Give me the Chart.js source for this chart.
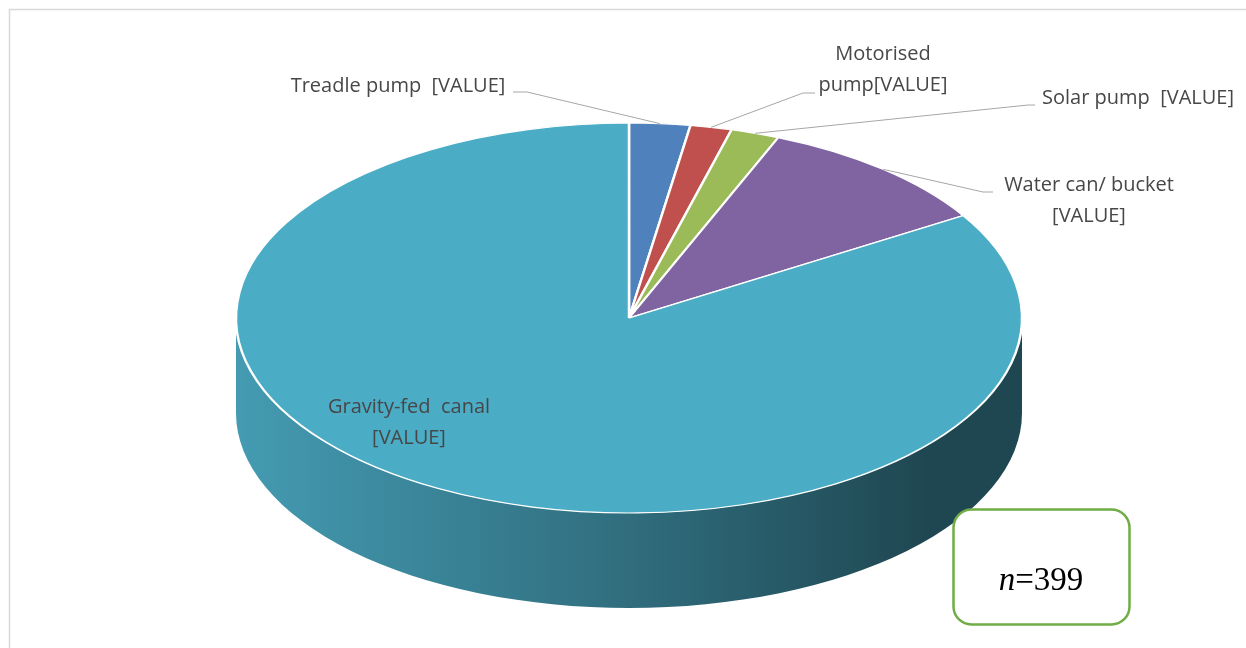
<!DOCTYPE html>
<html>
<head>
<meta charset="utf-8">
<script src="https://cdn.jsdelivr.net/npm/chart.js@4.4.1/dist/chart.umd.min.js"></script>
<style>
  html, body { margin: 0; padding: 0; background: #fff; }
  canvas { display: block; }
</style>
</head>
<body>
<canvas id="irrigationPie" width="1246" height="648"></canvas>
<script>
// irrigation method shares (percent of respondents), clockwise from 12 o'clock
const categories = ['Treadle pump', 'Motorised pump', 'Solar pump', 'Water can/ bucket', 'Gravity-fed canal'];
const shares = [2.5, 1.7, 2.0, 10.0, 83.8];
const labelLines = [
  ['Treadle pump  [VALUE]'],
  ['Motorised', 'pump[VALUE]'],
  ['Solar pump  [VALUE]'],
  ['Water can/ bucket', '[VALUE]'],
  ['Gravity-fed  canal', '[VALUE]']
];
const sampleSize = 399;

const sliceColors = ['#4F81BD', '#C0504D', '#9BBB59', '#8064A2', '#4BACC6'];

// where the tilted pie sits on the page
const disc = { cx: 629, cy: 318, rx: 393, ry: 195, depth: 95 };

// label text centre + leader start (null = drawn inside the slice)
const labelLayout = [
  { x: 398, y: 86, lead: [[513, 92], [527, 92]] },
  { x: 883, y: 54, lead: [[815, 93], [803, 93]] },
  { x: 1138, y: 98, lead: [[1035, 105], [1028, 105]] },
  { x: 1089, y: 185, lead: [[993, 192], [983, 192]] },
  { x: 409, y: 407, lead: null }
];

function shade(hex, f) {
  const n = parseInt(hex.slice(1), 16);
  const r = Math.round(((n >> 16) & 255) * f);
  const g = Math.round(((n >> 8) & 255) * f);
  const b = Math.round((n & 255) * f);
  return `rgb(${r},${g},${b})`;
}

const tiltPlugin = {
  id: 'tilt',
  beforeDatasetsDraw(chart) {
    const ctx = chart.ctx;
    const meta = chart.getDatasetMeta(0);
    const arc0 = meta.data[0];
    const R = arc0.outerRadius;

    // chart frame (top + left hairline)
    ctx.save();
    ctx.strokeStyle = '#d9d9d9';
    ctx.lineWidth = 1.5;
    ctx.beginPath();
    ctx.moveTo(9.5, 660);
    ctx.lineTo(9.5, 9.5);
    ctx.lineTo(1260, 9.5);
    ctx.stroke();
    ctx.restore();

    // side wall of the front half
    meta.data.forEach((arc, i) => {
      const a = Math.max(arc.startAngle, 0);
      const b = Math.min(arc.endAngle, Math.PI);
      if (b <= a) return;
      const base = sliceColors[i];
      const grad = ctx.createLinearGradient(disc.cx - disc.rx, 0, disc.cx + disc.rx, 0);
      grad.addColorStop(0, shade(base, 0.9));
      grad.addColorStop(0.45, shade(base, 0.66));
      grad.addColorStop(0.88, shade(base, 0.41));
      grad.addColorStop(1, shade(base, 0.41));
      ctx.save();
      ctx.beginPath();
      ctx.ellipse(disc.cx, disc.cy, disc.rx, disc.ry, 0, a, b, false);
      ctx.ellipse(disc.cx, disc.cy + disc.depth, disc.rx, disc.ry, 0, b, a, true);
      ctx.closePath();
      ctx.fillStyle = grad;
      ctx.fill();
      ctx.restore();
    });

    // squash the round pie into the tilted top face
    ctx.save();
    ctx.translate(disc.cx, disc.cy);
    ctx.scale(disc.rx / R, disc.ry / R);
    ctx.translate(-arc0.x, -arc0.y);
  },
  afterDatasetsDraw(chart) {
    chart.ctx.restore();
  },
  afterDraw(chart) {
    const ctx = chart.ctx;
    const meta = chart.getDatasetMeta(0);
    ctx.save();

    // leader lines to the rim of each small slice
    ctx.strokeStyle = '#a6a6a6';
    ctx.lineWidth = 1;
    meta.data.forEach((arc, i) => {
      const lay = labelLayout[i];
      if (!lay.lead) return;
      const mid = (arc.startAngle + arc.endAngle) / 2;
      const ax = disc.cx + disc.rx * Math.cos(mid);
      const ay = disc.cy + disc.ry * Math.sin(mid);
      ctx.beginPath();
      ctx.moveTo(lay.lead[0][0], lay.lead[0][1]);
      ctx.lineTo(lay.lead[1][0], lay.lead[1][1]);
      ctx.lineTo(ax, ay);
      ctx.stroke();
    });

    // data labels
    ctx.fillStyle = '#474747';
    ctx.font = '20px "Open Sans"';
    ctx.textAlign = 'center';
    ctx.textBaseline = 'middle';
    labelLines.forEach((lines, i) => {
      const lay = labelLayout[i];
      lines.forEach((t, k) => ctx.fillText(t, lay.x, lay.y + k * 31));
    });

    // sample size box
    ctx.beginPath();
    ctx.roundRect(953.5, 509.5, 176, 115, 18);
    ctx.fillStyle = '#fff';
    ctx.fill();
    ctx.strokeStyle = '#70AD47';
    ctx.lineWidth = 2.5;
    ctx.stroke();

    ctx.fillStyle = '#000';
    ctx.textAlign = 'left';
    ctx.textBaseline = 'alphabetic';
    const italicN = 'italic 33px "Liberation Serif"';
    const upright = '33px "Liberation Serif"';
    const rest = '=' + sampleSize;
    ctx.font = italicN;
    const wN = ctx.measureText('n').width;
    ctx.font = upright;
    const wR = ctx.measureText(rest).width;
    const x0 = 1041 - (wN + wR) / 2;
    ctx.font = italicN;
    ctx.fillText('n', x0, 590);
    ctx.font = upright;
    ctx.fillText(rest, x0 + wN, 590);
    ctx.restore();
  }
};

new Chart(document.getElementById('irrigationPie'), {
  type: 'pie',
  data: {
    labels: categories,
    datasets: [{
      data: shares,
      backgroundColor: sliceColors,
      borderColor: '#ffffff',
      borderWidth: 2
    }]
  },
  options: {
    responsive: false,
    animation: false,
    events: [],
    layout: { padding: 10 },
    plugins: {
      legend: { display: false },
      tooltip: { enabled: false }
    }
  },
  plugins: [tiltPlugin]
});
</script>
</body>
</html>
